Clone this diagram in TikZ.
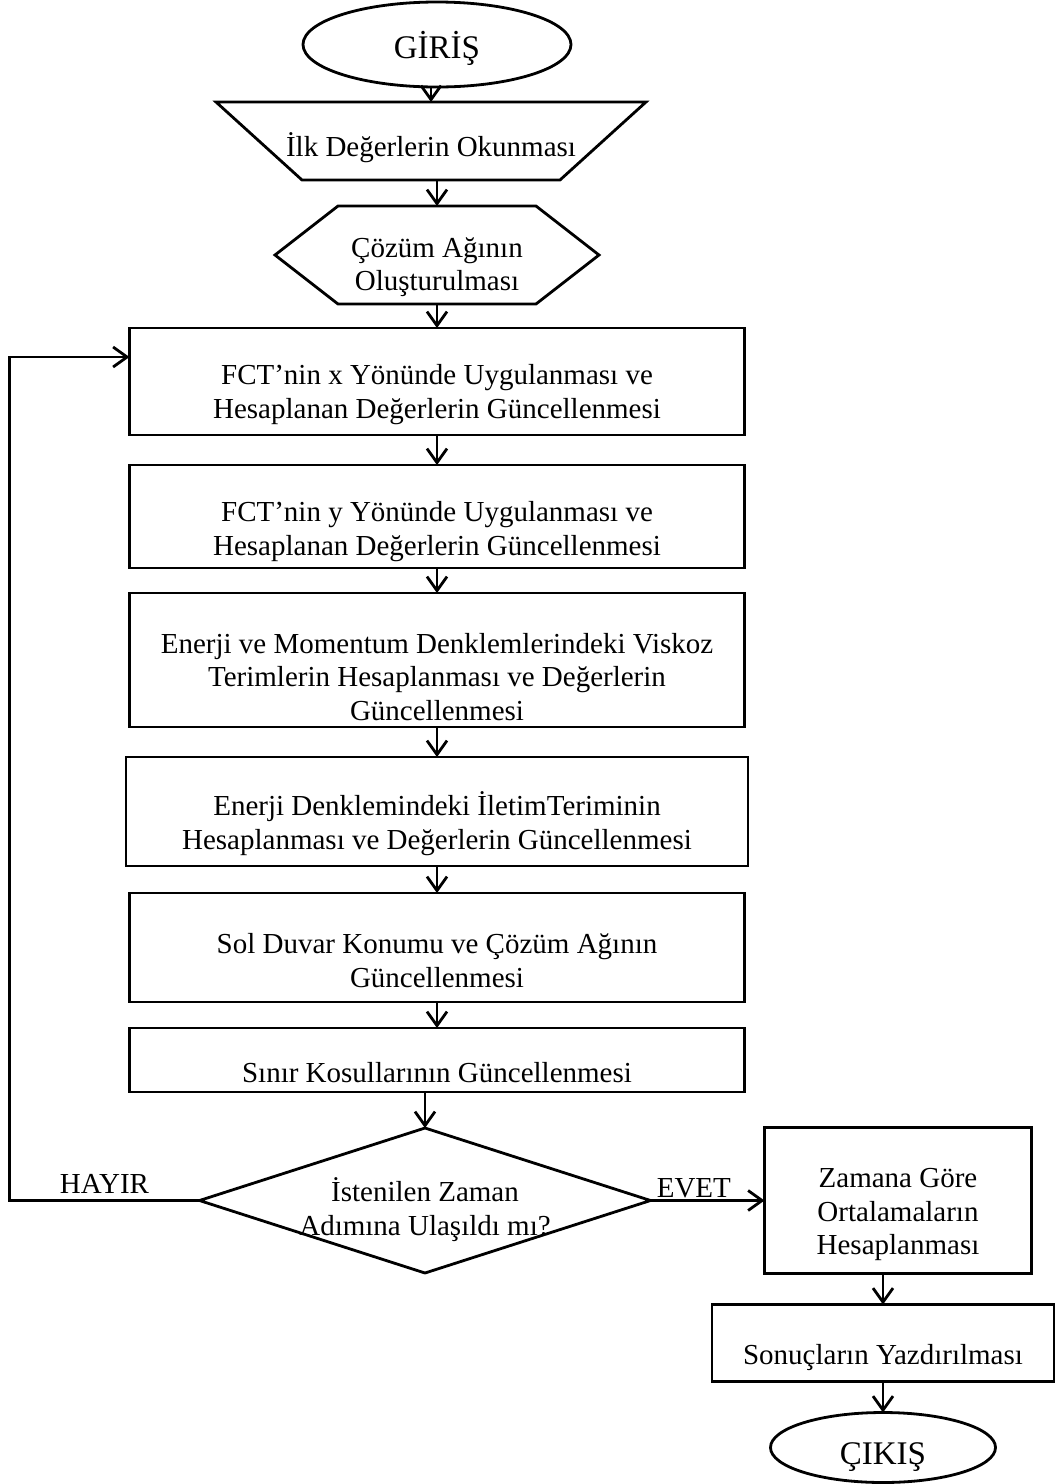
\documentclass[tikz,border=0pt]{standalone}
\usepackage{fontspec}
\setmainfont{Liberation Serif}
\usepackage{tikz}
\usetikzlibrary{arrows.meta,positioning,shapes.geometric}
\tikzset{
  box/.style={rectangle, draw, line width=1.4pt, align=center, inner xsep=4pt, inner ysep=1pt,
              outer sep=0pt, text height=40pt, minimum width=307.5pt, minimum height=#1},
  term/.style={ellipse, draw, line width=1.4pt, inner sep=0pt, outer sep=0pt,
               font=\fontsize{16.5}{19}\selectfont},
  cond/.style={diamond, draw, line width=1.4pt, align=center, inner sep=0pt, outer sep=0pt, aspect=3.1,
               minimum width=225.5pt, minimum height=72.5pt},
  plain/.style={rectangle, align=center, inner sep=0pt, outer sep=0pt},
  edge/.style={line width=1.4pt, line join=miter},
  flow/.style={-{Straight Barb[length=7pt,width=10pt]}, line width=1.4pt},
}

\begin{document}
\begin{tikzpicture}[font=\fontsize{14.5}{16.75}\selectfont]
  \useasboundingbox (0,0) rectangle (527.5pt,-742pt);
  \node[term, text height=17.5pt, minimum width=134pt, minimum height=42.5pt] (giris) at (218.5pt,-22.25pt) {GİRİŞ};
  \node[plain, text height=19pt, minimum width=215pt, minimum height=39pt, below=7.5pt of giris, xshift=-3pt] (ilk) {İlk Değerlerin Okunması};
  \node[plain, text height=39pt, minimum width=162pt, minimum height=49pt, below=13pt of ilk, xshift=3pt] (ag) {Çözüm Ağının\\Oluşturulması};
  \node[box=53.5pt, below=12pt of ag] (fctx) {FCT’nin x Yönünde Uygulanması ve\\Hesaplanan Değerlerin Güncellenmesi};
  \node[box=51.5pt, text height=42pt, below=15pt of fctx] (fcty) {FCT’nin y Yönünde Uygulanması ve\\Hesaplanan Değerlerin Güncellenmesi};
  \node[box=67pt, text height=60.5pt, below=12.5pt of fcty] (visk) {Enerji ve Momentum Denklemlerindeki Viskoz\\Terimlerin Hesaplanması ve Değerlerin\\Güncellenmesi};
  \node[box=54.5pt, text height=41pt, minimum width=311pt, below=15pt of visk] (ilet) {Enerji Denklemindeki İletimTeriminin\\Hesaplanması ve Değerlerin Güncellenmesi};
  \node[box=54.5pt, below=13.5pt of ilet] (duvar) {Sol Duvar Konumu ve Çözüm Ağının\\Güncellenmesi};
  \node[box=32pt, inner ysep=4pt, text height=23pt, text depth=1pt, below=13pt of duvar] (sinir) {Sınır Kosullarının Güncellenmesi};
  \node[cond, below=18pt of sinir, xshift=-6pt] (zaman) {\raisebox{-4.5pt}[\height][\depth]{İstenilen Zaman}\\\raisebox{-4.5pt}[\height][\depth]{Adımına Ulaşıldı mı?}};
  \node[box=73pt, text height=57.5pt, minimum width=133.5pt, right=57pt of zaman] (ort) {Zamana Göre\\Ortalamaların\\Hesaplanması};
  \node[box=38.5pt, text height=25pt, minimum width=171pt, below=15.5pt of ort, xshift=-7.5pt] (sonuc) {Sonuçların Yazdırılması};
  \node[term, text height=20pt, minimum width=112.5pt, minimum height=35pt, below=15.5pt of sonuc] (cikis) {ÇIKIŞ};

  \draw[edge] (ilk.north west) -- (ilk.north east) -- ([xshift=-43pt]ilk.south east)
    -- ([xshift=43pt]ilk.south west) -- cycle;
  \draw[edge] (ag.west) -- ([xshift=31.5pt]ag.north west) -- ([xshift=-31.5pt]ag.north east)
    -- (ag.east) -- ([xshift=-31.5pt]ag.south east) -- ([xshift=31.5pt]ag.south west) -- cycle;

  \draw[flow] (giris.south -| ilk.north) -- (ilk.north);
  \draw[flow] (ilk.south -| ag.north) -- (ag.north);
  \draw[flow] (ag) -- (fctx);
  \draw[flow] (fctx) -- (fcty);
  \draw[flow] (fcty) -- (visk);
  \draw[flow] (visk) -- (ilet);
  \draw[flow] (ilet) -- (duvar);
  \draw[flow] (duvar) -- (sinir);
  \draw[flow] (zaman.north |- sinir.south) -- (zaman.north);
  \draw[flow] (zaman.west) -- node[above, pos=0.5, inner sep=3pt]{HAYIR} ++(-95pt,0)
    |- ([yshift=12.25pt]fctx.west);
  \draw[flow] (zaman.east) -- node[above, pos=0.38, inner sep=0.5pt]{EVET} (ort.west);
  \draw[flow] (ort.south -| sonuc.north) -- (sonuc.north);
  \draw[flow] (sonuc) -- (cikis);
\end{tikzpicture}
\end{document}
